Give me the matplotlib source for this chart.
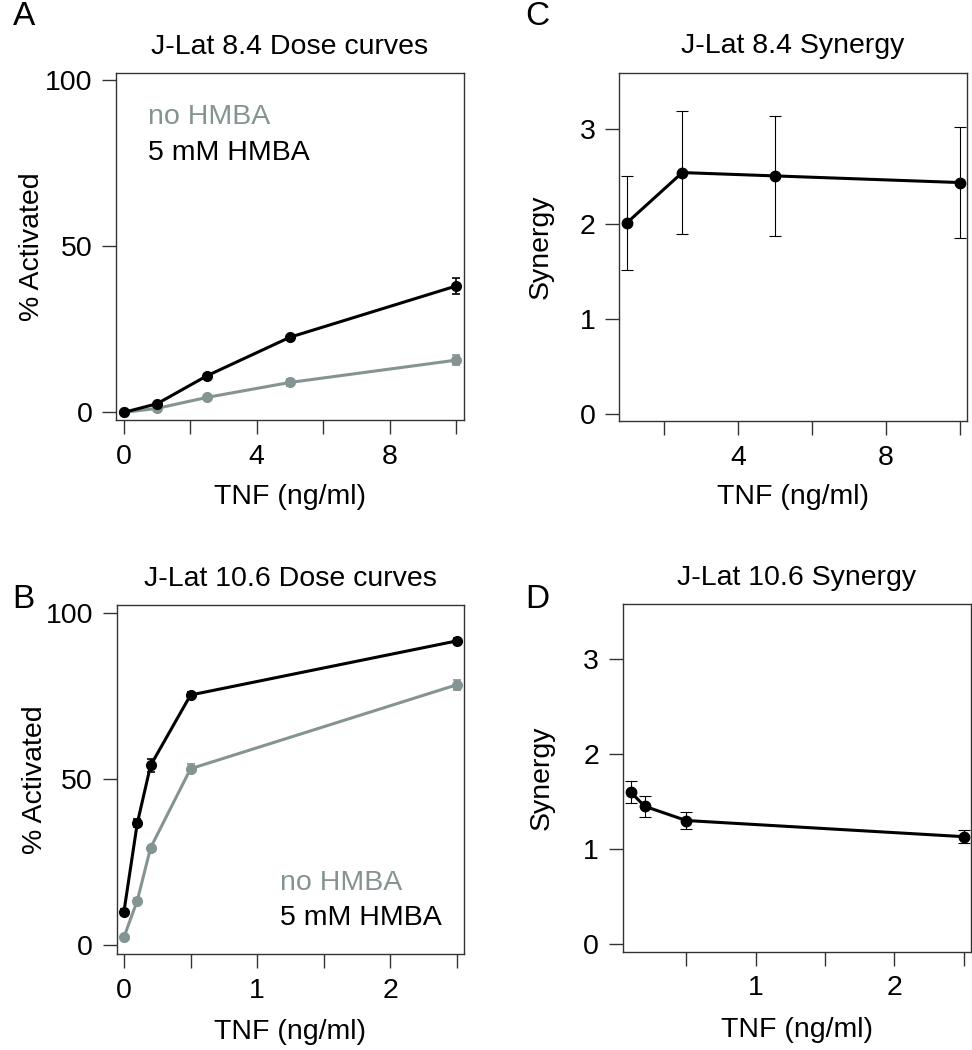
import matplotlib
matplotlib.use("Agg")
import matplotlib.pyplot as plt

plt.rcParams["font.family"] = ["Liberation Sans", "DejaVu Sans"]

GREY = "#849492"
BLACK = "#000000"

# ---- J-Lat 8.4 dose curves ----
tnf_84 = [0, 1, 2.5, 5, 10]
act_84_none = [0.0, 1.2, 4.5, 9.0, 15.7]
err_84_none = [0.3, 0.4, 0.5, 1.0, 1.5]
act_84_hmba = [0.0, 2.6, 11.0, 22.6, 38.0]
err_84_hmba = [0.3, 0.5, 0.6, 0.8, 2.5]

# ---- J-Lat 10.6 dose curves ----
tnf_106 = [0, 0.1, 0.2, 0.5, 2.5]
act_106_none = [2.5, 13.5, 29.4, 53.2, 78.5]
err_106_none = [0.4, 0.8, 0.6, 1.3, 1.5]
act_106_hmba = [10.2, 36.8, 54.2, 75.4, 91.7]
err_106_hmba = [0.9, 1.2, 2.0, 0.9, 0.8]

# ---- synergy ----
syn_tnf_84 = [1, 2.5, 5, 10]
syn_84 = [2.01, 2.54, 2.505, 2.435]
syn_err_84 = [0.49, 0.65, 0.63, 0.58]

syn_tnf_106 = [0.1, 0.2, 0.5, 2.5]
syn_106 = [1.60, 1.45, 1.30, 1.13]
syn_err_106 = [0.12, 0.11, 0.09, 0.07]

FS = 20.5


def style_axes(ax):
    for s in ax.spines.values():
        s.set_linewidth(1.0)
        s.set_color("#333333")
    ax.tick_params(direction="out", length=10, width=1.0, color="#333333",
                   labelsize=FS, pad=7)


def label_axes(ax, ylabel, ylab_x, xlab_y):
    ax.set_ylabel(ylabel, fontsize=FS, va="center")
    ax.yaxis.set_label_coords(ylab_x, 0.5)
    ax.set_xlabel("TNF (ng/ml)", fontsize=FS, va="center")
    ax.xaxis.set_label_coords(0.5, xlab_y)


def dose_panel(ax, x, y0, e0, y1, e1):
    ax.errorbar(x, y0, yerr=e0, color=GREY, lw=2.2, marker="o", ms=7,
                elinewidth=1.2, capsize=3, capthick=1.2)
    ax.errorbar(x, y1, yerr=e1, color=BLACK, lw=2.2, marker="o", ms=7,
                elinewidth=1.2, capsize=3, capthick=1.2)
    ax.set_yticks([0, 50, 100])


def synergy_panel(ax, x, y, e):
    ax.errorbar(x, y, yerr=e, color=BLACK, lw=2.2, marker="o", ms=7.5,
                elinewidth=0.8, capsize=4, capthick=0.8)
    ax.set_yticks([0, 1, 2, 3])


fig = plt.figure(figsize=(9.72, 10.5), dpi=100)

axA = fig.add_axes([0.1193, 0.600, 0.358, 0.3305])
axB = fig.add_axes([0.1200, 0.0914, 0.357, 0.3324])
axC = fig.add_axes([0.6368, 0.599, 0.3577, 0.3317])
axD = fig.add_axes([0.6406, 0.0936, 0.358, 0.3309])

# A
dose_panel(axA, tnf_84, act_84_none, err_84_none, act_84_hmba, err_84_hmba)
axA.set_xlim(-0.24, 10.24)
axA.set_ylim(-2.3, 102.1)
axA.set_xticks([0, 2, 4, 6, 8, 10])
axA.set_xticklabels(["0", "", "4", "", "8", ""])
axA.set_title("J-Lat 8.4 Dose curves", fontsize=FS, pad=14)
label_axes(axA, "% Activated", -0.241, -0.222)
axA.text(0.092, 0.874, "no HMBA", color=GREY, fontsize=FS,
         transform=axA.transAxes, va="center")
axA.text(0.092, 0.769, "5 mM HMBA", color=BLACK, fontsize=FS,
         transform=axA.transAxes, va="center")

# B
dose_panel(axB, tnf_106, act_106_none, err_106_none, act_106_hmba, err_106_hmba)
axB.set_xlim(-0.055, 2.55)
axB.set_ylim(-2.6, 102.5)
axB.set_xticks([0, 0.5, 1, 1.5, 2, 2.5])
axB.set_xticklabels(["0", "", "1", "", "2", ""])
axB.set_title("J-Lat 10.6 Dose curves", fontsize=FS, pad=14)
label_axes(axB, "% Activated", -0.235, -0.223)
axB.text(0.47, 0.203, "no HMBA", color=GREY, fontsize=FS,
         transform=axB.transAxes, va="center")
axB.text(0.47, 0.102, "5 mM HMBA", color=BLACK, fontsize=FS,
         transform=axB.transAxes, va="center")

# C
synergy_panel(axC, syn_tnf_84, syn_84, syn_err_84)
axC.set_xlim(0.79, 10.18)
axC.set_ylim(-0.074, 3.59)
axC.set_xticks([2, 4, 6, 8, 10])
axC.set_xticklabels(["", "4", "", "8", ""])
axC.set_title("J-Lat 8.4 Synergy", fontsize=FS, pad=14)
label_axes(axC, "Synergy", -0.225, -0.217)

# D
synergy_panel(axD, syn_tnf_106, syn_106, syn_err_106)
axD.set_xlim(0.042, 2.55)
axD.set_ylim(-0.081, 3.576)
axD.set_xticks([0.5, 1, 1.5, 2, 2.5])
axD.set_xticklabels(["", "1", "", "2", ""])
axD.set_title("J-Lat 10.6 Synergy", fontsize=FS, pad=14)
label_axes(axD, "Synergy", -0.233, -0.225)

for ax in (axA, axB, axC, axD):
    style_axes(ax)

fig.text(0.013, 0.984, "A", fontsize=24, va="center", ha="left")
fig.text(0.013, 0.4295, "B", fontsize=24, va="center", ha="left")
fig.text(0.540, 0.984, "C", fontsize=24, va="center", ha="left")
fig.text(0.540, 0.4295, "D", fontsize=24, va="center", ha="left")

fig.savefig("out.png", dpi=100)
